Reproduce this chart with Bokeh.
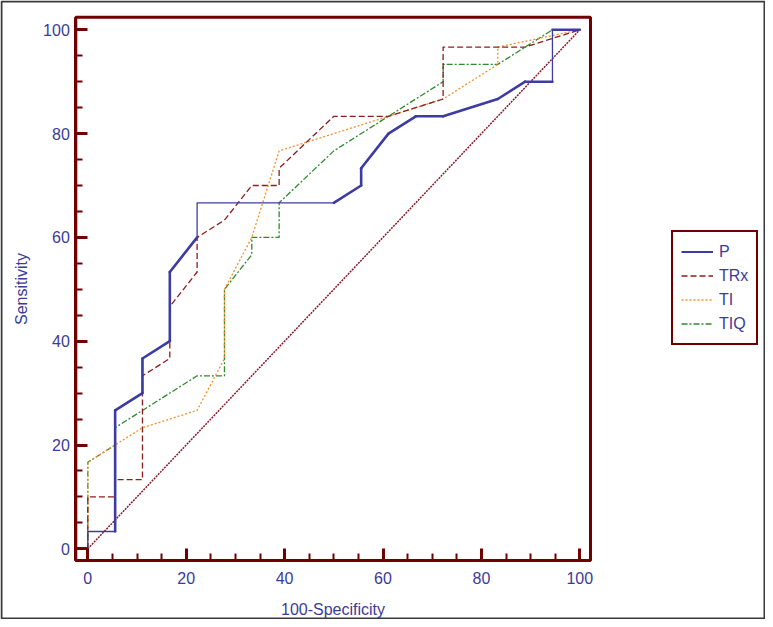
import math
from bokeh.plotting import figure
from bokeh.models import Range1d, FixedTicker, Legend, LegendItem, ColumnDataSource, Label
from bokeh.embed import file_html
from bokeh.resources import INLINE

# ---- data (100-Specificity, Sensitivity) ----
series_names = ["P", "TRx", "TI", "TIQ"]

P_x = [0, 0, 5.56, 5.56, 11.11, 11.11, 16.67, 16.67, 22.22, 22.22, 50, 55.56, 55.56,
       61.11, 66.67, 72.22, 83.33, 88.89, 94.44, 94.44, 100]
P_y = [0, 3.33, 3.33, 26.67, 30, 36.67, 40, 53.33, 60, 66.67, 66.67, 70, 73.33,
       80, 83.33, 83.33, 86.67, 90, 90, 100, 100]

TRx_x = [0, 0, 5.56, 5.56, 11.11, 11.11, 16.67, 16.67, 22.22, 22.22, 27.78, 33.33, 38.89,
         38.89, 50, 61.11, 72.22, 72.22, 88.89, 100]
TRx_y = [0, 10, 10, 13.33, 13.33, 33.33, 36.67, 46.67, 53.33, 60, 63.33, 70, 70,
         73.33, 83.33, 83.33, 86.67, 96.67, 96.67, 100]

TI_x = [0, 0, 5.56, 11.11, 22.22, 27.78, 27.78, 33.33, 38.89, 72.22, 83.33, 83.33, 100]
TI_y = [0, 16.67, 20, 23.33, 26.67, 36.67, 50, 60, 76.67, 86.67, 93.33, 96.67, 100]

TIQ_x = [0, 0, 5.56, 5.56, 22.22, 27.78, 27.78, 33.33, 33.33, 38.89, 38.89, 50, 72.22,
         72.22, 83.33, 94.44, 100]
TIQ_y = [0, 16.67, 20, 23.33, 33.33, 33.33, 50, 56.67, 60, 60, 66.67, 76.67, 90,
         93.33, 93.33, 100, 100]

diag_x = [0, 100]
diag_y = [0, 100]

major_ticks = [0, 20, 40, 60, 80, 100]
minor_ticks = [5, 10, 15, 25, 30, 35, 45, 50, 55, 65, 70, 75, 85, 90, 95]

x_title = "100-Specificity"
y_title = "Sensitivity"

# ---- styles / layout ----
FONT = "Liberation Sans"
TXT = "#3b3b99"
FRAME = "#700000"
C_P = "#3c3ca4"
C_TRX = "#8e1c1c"
C_TI = "#f59028"
C_TIQ = "#2e8a2e"
C_DIAG = "#8b1a2a"

W, H = 765, 619
# pixel position of x=0 / y=0 and pixels per unit
X0_PX, Y0_PX = 87.3, 548.3
PPU_X, PPU_Y = 4.92, 5.19


def dx(px):
    return (px - X0_PX) / PPU_X


def dy(py):
    return (Y0_PX - py) / PPU_Y


BOX = dict(left=dx(75.3), right=dx(590), bottom=dy(560), top=dy(16.7))

p = figure(width=W, height=H, output_backend="svg", toolbar_location=None,
           x_range=Range1d(dx(0), dx(W)), y_range=Range1d(dy(H), dy(0)),
           min_border_left=0, min_border_right=0, min_border_top=0, min_border_bottom=0)
p.background_fill_color = "white"
p.border_fill_color = "white"
p.grid.visible = False
p.outline_line_color = None

for ax in (p.xaxis[0], p.yaxis[0]):
    ax.ticker = FixedTicker(ticks=major_ticks, minor_ticks=minor_ticks)
    ax.axis_line_color = FRAME
    ax.axis_line_width = 3
    ax.major_tick_in = 12
    ax.major_tick_out = 0
    ax.minor_tick_in = 7
    ax.minor_tick_out = 0
    ax.major_tick_line_color = FRAME
    ax.minor_tick_line_color = FRAME
    ax.major_tick_line_width = 3
    ax.minor_tick_line_width = 2
    ax.major_label_text_font = FONT
    ax.major_label_text_font_size = "16px"
    ax.major_label_text_color = TXT

p.xaxis[0].fixed_location = BOX["bottom"]
p.yaxis[0].fixed_location = BOX["left"]
p.xaxis[0].bounds = (BOX["left"], BOX["right"])
p.yaxis[0].bounds = (BOX["bottom"], BOX["top"])
p.xaxis[0].major_label_standoff = 11
p.yaxis[0].major_label_standoff = 6

p.add_layout(Label(x=dx(332.5), y=dy(609), text=x_title, text_align="center",
                   text_baseline="middle", text_font=FONT, text_font_size="16px",
                   text_color=TXT))
p.add_layout(Label(x=dx(20.5), y=dy(288.5), text=y_title, angle=math.pi / 2,
                   text_align="center", text_baseline="middle", text_font=FONT,
                   text_font_size="16px", text_color=TXT))

# outer image border and plot box
p.quad(left=[dx(1)], right=[dx(W - 1)], bottom=[dy(H - 1)], top=[dy(1)],
       fill_color=None, line_color="#3a3a3a", line_width=2)
p.quad(left=[BOX["left"]], right=[BOX["right"]], bottom=[BOX["bottom"]], top=[BOX["top"]],
       fill_color=None, line_color=FRAME, line_width=3)

p.line(diag_x, diag_y, line_color=C_DIAG, line_width=1.5, line_dash="2 1")
r_tiq = p.line(TIQ_x, TIQ_y, line_color=C_TIQ, line_width=1.3, line_dash="6 2 2 2")
r_ti = p.line(TI_x, TI_y, line_color=C_TI, line_width=1.3, line_dash="2 2")
r_trx = p.line(TRx_x, TRx_y, line_color=C_TRX, line_width=1.3, line_dash="6 3")

# P: thin base line plus thicker segments
p.line(P_x, P_y, line_color=C_P, line_width=1.3)
thin_segments = {0, 1, 8, 9, 18}
idx = [i for i in range(len(P_x) - 1) if i not in thin_segments]
seg = ColumnDataSource(dict(x0=[P_x[i] for i in idx], y0=[P_y[i] for i in idx],
                            x1=[P_x[i + 1] for i in idx], y1=[P_y[i + 1] for i in idx]))
p.segment("x0", "y0", "x1", "y1", source=seg, line_color=C_P, line_width=2.6, line_cap="round")
r_p_leg = p.line([50], [50], line_color=C_P, line_width=2.2, visible=False)

legend = Legend(items=[
    LegendItem(label=series_names[0], renderers=[r_p_leg]),
    LegendItem(label=series_names[1], renderers=[r_trx]),
    LegendItem(label=series_names[2], renderers=[r_ti]),
    LegendItem(label=series_names[3], renderers=[r_tiq]),
], location=(671, H - 345))
legend.border_line_color = FRAME
legend.border_line_width = 2
legend.border_line_alpha = 1
legend.background_fill_color = "white"
legend.background_fill_alpha = 1
legend.label_text_font = FONT
legend.label_text_font_size = "16px"
legend.label_text_color = TXT
legend.glyph_width = 32
legend.glyph_height = 23
legend.label_height = 23
legend.label_standoff = 6
legend.spacing = 1
legend.padding = 8
legend.margin = 0
p.add_layout(legend, "center")

open("out.html", "w").write(file_html(p, INLINE))
